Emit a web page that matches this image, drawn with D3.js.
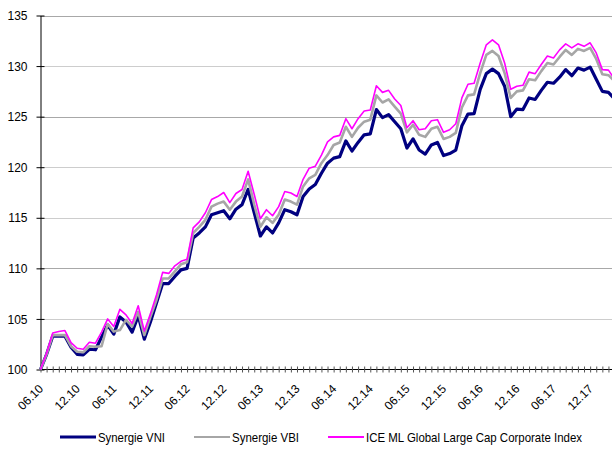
<!DOCTYPE html>
<html>
<head>
<meta charset="utf-8">
<script src="https://cdn.jsdelivr.net/npm/d3@7"></script>
<style>
  body { margin: 0; background: #fff; }
  .axis text { font-family: "Liberation Sans", Arial, sans-serif; font-size: 12px; fill: #000; }
  .axis path { stroke: #000; }
  .legend text { font-family: "Liberation Sans", Arial, sans-serif; font-size: 13px; fill: #000; }
</style>
</head>
<body>
<div id="chart"></div>
<script>
// month labels under the x axis, one every six months (06.10 .. 12.17)
var tickLabels = ["06.10", "12.10", "06.11", "12.11", "06.12", "12.12", "06.13", "12.13",
                  "06.14", "12.14", "06.15", "12.15", "06.16", "12.16", "06.17", "12.17"];
var yTicks = [100, 105, 110, 115, 120, 125, 130, 135];
var seriesNames = ["Synergie VNI", "Synergie VBI", "ICE ML Global Large Cap Corporate Index"];

// monthly index values, 06.10 .. 04.18
var vni = [100, 101.5, 103.3, 103.3, 103.3, 102.2, 101.5, 101.45, 102.0, 101.95,
  103.2, 104.4, 103.5, 105.2, 104.7, 103.7, 105.3, 103.0, 104.7, 106.6,
  108.5, 108.5, 109.2, 109.85, 110.0, 113.0, 113.5, 114.1, 115.3, 115.5,
  115.7, 114.9, 115.85, 116.3, 117.8, 115.5, 113.2, 114.1, 113.5, 114.5,
  115.8, 115.6, 115.3, 117.1, 117.85, 118.3, 119.4, 120.4, 120.9, 121.05,
  122.6, 121.6, 122.45, 123.2, 123.3, 125.7, 124.9, 125.2, 124.5, 123.8,
  121.9, 122.8, 121.7, 121.3, 122.2, 122.45, 121.15, 121.35, 121.7, 124.1,
  125.25, 125.3, 127.7, 129.25, 129.7, 129.25, 128.0, 125.0, 125.75, 125.7,
  126.85, 126.7, 127.6, 128.4, 128.3, 128.9, 129.65, 129.05, 129.8, 129.6,
  129.9, 128.7, 127.5, 127.4, 126.75];

var vbi = [100, 101.5, 103.4, 103.4, 103.4, 102.3, 101.75, 101.7, 102.3, 102.25,
  102.3, 104.5, 103.75, 103.9, 104.9, 104.25, 105.7, 103.4, 105.2, 106.9,
  109.0, 109.0, 109.7, 110.4, 110.6, 113.5, 114.1, 114.8, 116.1, 116.4,
  116.6, 115.8, 116.6, 117.1, 118.8, 116.3, 114.1, 115.05, 114.5, 115.3,
  116.8, 116.6, 116.3, 118.1, 118.9, 119.25, 120.4, 121.2, 122.2, 122.45,
  124.0, 123.0, 123.9, 124.5, 124.7, 127.1, 126.4, 126.7, 126.0, 125.3,
  123.45, 124.2, 123.2, 123.0, 123.8, 124.0, 122.8, 123.0, 123.4, 125.9,
  127.1, 127.2, 129.3, 131.1, 131.5, 131.0, 129.3, 126.85, 127.5, 127.6,
  128.7, 128.6, 129.5, 130.3, 130.15, 130.9, 131.6, 131.1, 131.7, 131.5,
  131.8, 130.7, 129.2, 129.1, 128.5];

var ice = [100, 101.6, 103.6, 103.75, 103.85, 102.65, 102.1, 102.0, 102.7, 102.6,
  103.7, 105.0, 104.25, 105.95, 105.4, 104.55, 106.3, 103.8, 105.5, 107.4,
  109.6, 109.5, 110.25, 110.7, 110.9, 114.0, 114.6, 115.5, 116.8, 117.1,
  117.5, 116.5, 117.4, 117.8, 119.6, 117.3, 114.9, 115.8, 115.2, 116.1,
  117.6, 117.45, 117.1, 118.8, 119.9, 120.1, 121.2, 122.5, 123.0, 123.15,
  124.8, 123.8, 124.8, 125.55, 125.65, 128.05, 127.4, 127.6, 126.75, 126.1,
  123.9, 124.6, 123.7, 123.8, 124.6, 124.7, 123.45, 123.7, 124.3, 126.85,
  128.2, 128.3, 130.3, 132.1, 132.6, 132.1, 130.3, 127.7, 128.0, 128.1,
  129.4, 129.25, 130.15, 131.0, 130.8, 131.6, 132.2, 131.8, 132.2, 131.95,
  132.3, 131.3, 129.65, 129.6, 128.7];

var colors = ["#000080", "#a6a6a6", "#ff00ff"],
    widths = [3.2, 2.6, 1.6];

var width = 612, height = 453;

var svg = d3.select("#chart").append("svg")
    .attr("width", width)
    .attr("height", height);

var x = d3.scaleLinear().domain([0, vni.length - 1]).range([40.5, 40.5 + 6.107 * (vni.length - 1)]);
var y = d3.scaleLinear().domain([100, 135]).range([369.5, 15.5]);

// horizontal grid lines, some solid, some dotted (as in the original)
svg.selectAll(".grid")
    .data(yTicks.slice(1))
    .enter().append("line")
      .attr("class", "grid")
      .attr("x1", 40.5)
      .attr("x2", width)
      .attr("y1", function(d) { return Math.round(y(d)) + 0.5; })
      .attr("y2", function(d) { return Math.round(y(d)) + 0.5; })
      .style("stroke", function(d) { return (d == 110 || d == 125 || d == 135) ? "#a8a8a8" : "#9a9a9a"; })
      .style("stroke-dasharray", function(d) { return (d == 110 || d == 125 || d == 135) ? null : "1,1"; });

// y axis
var yAxis = svg.append("g")
    .attr("class", "axis")
    .attr("transform", "translate(40.5,0)")
    .call(d3.axisLeft(y).tickValues(yTicks).tickSize(4).tickPadding(9).tickSizeOuter(0));
yAxis.selectAll(".tick line").attr("x1", 4).style("stroke", "#000");
yAxis.selectAll(".tick text").attr("dy", "0.35em");

// x axis, one tick per month
var xAxis = svg.append("g")
    .attr("class", "axis")
    .attr("transform", "translate(0,369.5)")
    .call(d3.axisBottom(x)
      .tickValues(d3.range(0, vni.length))
      .tickSize(3)
      .tickSizeOuter(0)
      .tickFormat(function(d) { return d % 6 == 0 ? tickLabels[d / 6] : ""; }));
xAxis.select(".domain").attr("d", "M40.5,0H" + width);
xAxis.selectAll(".tick line").attr("y1", -3).style("stroke", "#555");
xAxis.selectAll(".tick text")
    .style("text-anchor", "end")
    .attr("dy", null)
    .attr("y", 0)
    .attr("transform", "translate(3,20) rotate(-45)");

// the three series
var line = d3.line()
    .x(function(d, i) { return x(i); })
    .y(function(d) { return y(d); });

svg.selectAll(".series")
    .data([vni, vbi, ice])
    .enter().append("path")
      .attr("class", "series")
      .attr("d", line)
      .style("fill", "none")
      .style("stroke", function(d, i) { return colors[i]; })
      .style("stroke-width", function(d, i) { return widths[i]; })
      .style("stroke-linejoin", "round");

// legend (narrow lettering like the original)
var legendX = [60, 194, 328],
    legendTextLen = [67, 67, 216];
var legend = svg.selectAll(".legend")
    .data(seriesNames)
    .enter().append("g")
      .attr("class", "legend")
      .attr("transform", function(d, i) { return "translate(" + legendX[i] + ",437)"; });

legend.append("line")
    .attr("x1", 0)
    .attr("x2", 36)
    .style("stroke", function(d, i) { return colors[i]; })
    .style("stroke-width", function(d, i) { return i == 0 ? 3 : 2.2; });

legend.append("text")
    .attr("x", 38)
    .attr("dy", "0.35em")
    .attr("textLength", function(d, i) { return legendTextLen[i]; })
    .attr("lengthAdjust", "spacingAndGlyphs")
    .text(function(d) { return d; });
</script>
</body>
</html>
